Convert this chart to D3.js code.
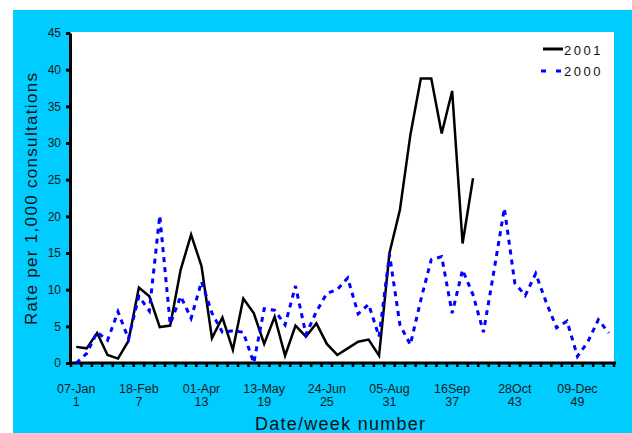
<!DOCTYPE html>
<html>
<head>
<meta charset="utf-8">
<script src="https://cdn.jsdelivr.net/npm/d3@7"></script>
<style>
html,body{margin:0;padding:0;background:#fff;}
svg{display:block;font-family:"Liberation Sans",Arial,sans-serif;}
</style>
</head>
<body>
<svg id="chart" width="632" height="433"></svg>
<script>
const weeks = [1,2,3,4,5,6,7,8,9,10,11,12,13,14,15,16,17,18,19,20,21,22,23,24,25,26,
  27,28,29,30,31,32,33,34,35,36,37,38,39,40,41,42,43,44,45,46,47,48,49,50,51,52];
const series2001 = [2.2,2.0,4.1,1.1,0.6,3.0,10.3,9.1,4.9,5.1,12.7,17.5,13.2,3.4,6.2,1.8,
  8.8,6.8,2.6,6.3,1.0,5.1,3.6,5.4,2.6,1.1,2.0,2.9,3.2,1.0,15.0,20.9,31.1,38.8,38.8,31.3,
  37.1,16.3,25.2];
const series2000 = [0.0,1.3,4.2,3.1,7.0,3.3,9.1,7.1,20.1,5.3,9.1,6.1,11.1,6.8,4.2,4.4,
  4.2,0.0,7.4,7.2,5.2,10.5,3.9,7.0,9.5,10.0,11.6,6.7,8.0,3.6,14.8,5.2,2.5,8.6,14.1,14.5,
  6.8,12.7,9.3,4.2,12.5,21.1,10.9,9.2,12.2,8.3,4.8,5.7,0.9,2.9,5.9,4.1];
const tickWeeks = [1,7,13,19,25,31,37,43,49];
const tickDates = ["07-Jan","18-Feb","01-Apr","13-May","24-Jun","05-Aug","16Sep","28Oct","09-Dec"];
const yTicks = [0,5,10,15,20,25,30,35,40,45];
const seriesNames = ["2001","2000"];

const svg = d3.select("#chart");
const L = 71, R = 614, T = 33, B = 363;

// background panel
svg.append("rect").attr("x",13).attr("y",10).attr("width",619).attr("height",423).attr("fill","#00CCFF");
svg.append("rect").attr("x",L).attr("y",32).attr("width",R-L).attr("height",B-32).attr("fill","#fff");

const x = d3.scaleBand().domain(weeks).range([L,R]).padding(0);
const y = d3.scaleLinear().domain([0,45]).range([B,T]);
const cx = w => x(w) + x.bandwidth()/2;

// y axis
const yAxis = d3.axisLeft(y).tickValues(yTicks).tickSize(4).tickPadding(5).tickSizeOuter(0);
const gy = svg.append("g").attr("transform",`translate(${L-1},0)`).call(yAxis);
gy.select(".domain").attr("stroke","#000").attr("stroke-width",3);
gy.selectAll(".tick line").attr("stroke","#000").attr("stroke-width",3);
gy.selectAll(".tick text").attr("font-size",12).attr("fill","#1a1a1a")
  .attr("font-family","Liberation Sans, Arial, sans-serif");

// x axis (ticks between categories)
const bounds = weeks.map(w => x(w)).concat([R]);
const gx = svg.append("g");
gx.selectAll("line.tk").data(bounds).join("line").attr("class","tk")
  .attr("x1",d=>d).attr("x2",d=>d).attr("y1",B).attr("y2",B+4)
  .attr("stroke","#000").attr("stroke-width",2.5);
gx.append("line").attr("x1",L-2).attr("x2",R+2).attr("y1",B).attr("y2",B)
  .attr("stroke","#000").attr("stroke-width",3);
const lab = gx.selectAll("g.lab").data(tickWeeks).join("g").attr("class","lab")
  .attr("transform",w=>`translate(${cx(w)},0)`);
lab.append("text").attr("y",393).attr("text-anchor","middle").attr("font-size",12.5)
  .attr("fill","#1a1a1a").text((w,i)=>tickDates[i]);
lab.append("text").attr("y",406).attr("text-anchor","middle").attr("font-size",12.5)
  .attr("fill","#1a1a1a").text(w=>w);

// axis titles
svg.append("text").attr("transform","translate(37,199) rotate(-90)")
  .attr("text-anchor","middle").attr("font-size",17).attr("fill","#111")
  .attr("textLength",252).attr("lengthAdjust","spacing")
  .text("Rate per 1,000 consultations");
svg.append("text").attr("x",340).attr("y",430).attr("text-anchor","middle")
  .attr("font-size",18).attr("fill","#111")
  .attr("textLength",170).attr("lengthAdjust","spacing")
  .text("Date/week number");

// lines
const line = d3.line().x((d,i)=>cx(weeks[i])).y(d=>y(d));
svg.append("path").datum(series2001).attr("d",line).attr("fill","none")
  .attr("stroke","#000").attr("stroke-width",2.5).attr("stroke-linejoin","miter");
svg.append("path").datum(series2000).attr("d",line).attr("fill","none")
  .attr("stroke","#0000FF").attr("stroke-width",3).attr("stroke-dasharray","5,5");

// legend
const lg = svg.append("g");
lg.append("line").attr("x1",543).attr("x2",563).attr("y1",49).attr("y2",49)
  .attr("stroke","#000").attr("stroke-width",3);
lg.append("line").attr("x1",541).attr("x2",561).attr("y1",71).attr("y2",71)
  .attr("stroke","#0000FF").attr("stroke-width",3).attr("stroke-dasharray","5,10");
lg.append("text").attr("x",564).attr("y",54.5).attr("font-size",13).attr("fill","#111")
  .attr("letter-spacing",2.5).text(seriesNames[0]);
lg.append("text").attr("x",564).attr("y",76).attr("font-size",13).attr("fill","#111")
  .attr("letter-spacing",2.5).text(seriesNames[1]);
</script>
</body>
</html>
